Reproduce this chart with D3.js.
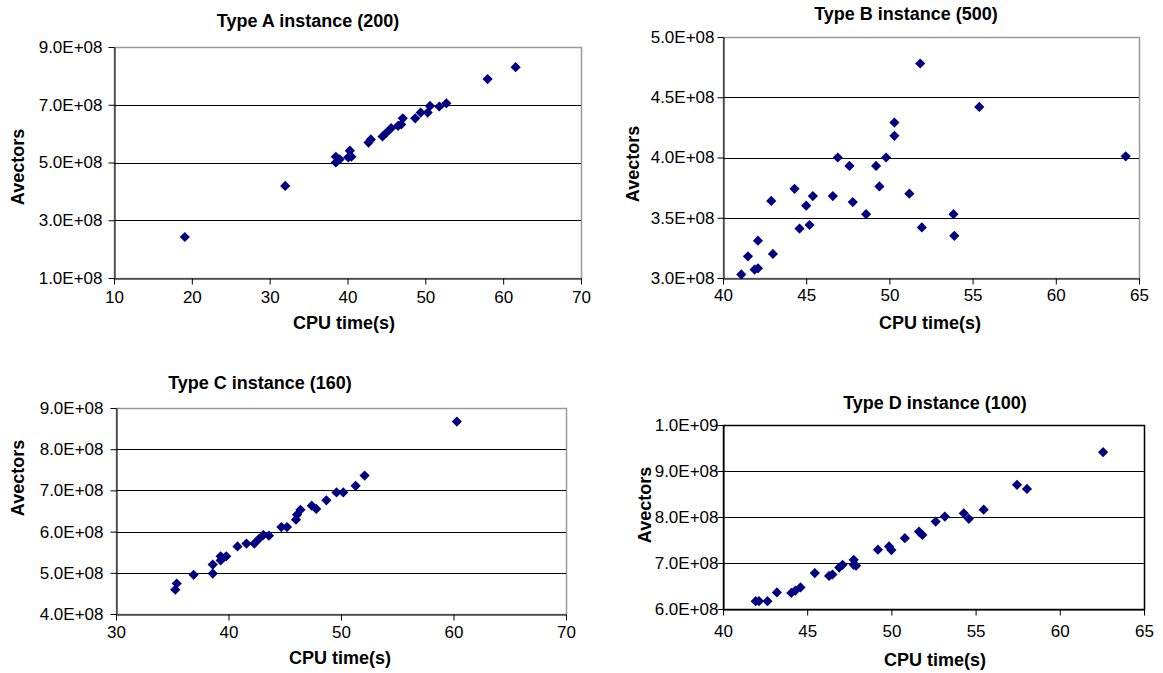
<!DOCTYPE html>
<html>
<head>
<meta charset="utf-8">
<script src="https://cdn.jsdelivr.net/npm/d3@7"></script>
<style>
  body { margin: 0; background: #fff; }
  svg { font-family: Arial, "Liberation Sans", sans-serif; }
</style>
</head>
<body>
<svg width="1163" height="673"></svg>
<script>
// data (x = CPU time in s, y = Avectors / 1e8)
const aX = [19.1, 32.0, 38.5, 38.5, 39.0, 40.3, 40.5, 40.1, 42.7, 43.0, 44.5, 45.0, 45.6, 46.5, 46.9, 47.1, 48.7, 49.4, 50.3, 50.6, 51.8, 52.7, 58.0, 61.6];
const aY = [2.42, 4.19, 5.2, 5.0, 5.11, 5.41, 5.2, 5.18, 5.69, 5.8, 5.9, 6.03, 6.19, 6.27, 6.32, 6.53, 6.53, 6.73, 6.73, 6.96, 6.94, 7.05, 7.89, 8.3];

const bX = [41.1, 41.5, 41.9, 42.1, 42.1, 42.9, 43.0, 44.3, 44.6, 45.0, 45.2, 45.4, 46.6, 46.9, 47.6, 47.8, 48.6, 49.2, 49.4, 49.8, 50.3, 50.3, 51.2, 51.85, 51.95, 53.85, 53.9, 55.4, 64.2];
const bY = [3.03, 3.18, 3.07, 3.08, 3.31, 3.64, 3.2, 3.74, 3.41, 3.6, 3.44, 3.68, 3.68, 4.0, 3.93, 3.63, 3.53, 3.93, 3.76, 4.0, 4.18, 4.29, 3.7, 4.78, 3.42, 3.53, 3.35, 4.42, 4.01];

const cX = [35.27, 35.4, 36.9, 38.6, 38.6, 39.3, 39.3, 39.8, 40.8, 41.6, 42.3, 42.7, 43.1, 43.6, 44.7, 45.2, 46.0, 46.1, 46.4, 47.4, 47.8, 48.7, 49.6, 50.2, 51.3, 52.1, 60.3];
const cY = [4.59, 4.74, 4.95, 4.98, 5.2, 5.3, 5.4, 5.4, 5.64, 5.71, 5.71, 5.82, 5.92, 5.9, 6.11, 6.11, 6.29, 6.41, 6.53, 6.63, 6.55, 6.76, 6.95, 6.95, 7.11, 7.36, 8.67];

const dX = [41.94, 42.14, 42.64, 43.2, 44.06, 44.3, 44.6, 45.45, 46.3, 46.5, 46.9, 47.1, 47.76, 47.9, 47.76, 49.2, 49.86, 50.0, 50.8, 51.64, 51.84, 52.63, 53.17, 54.3, 54.6, 55.48, 57.46, 58.05, 62.57];
const dY = [6.17, 6.17, 6.17, 6.36, 6.35, 6.4, 6.47, 6.78, 6.72, 6.75, 6.9, 6.96, 7.07, 6.94, 6.96, 7.29, 7.36, 7.28, 7.54, 7.68, 7.61, 7.9, 8.01, 8.08, 7.96, 8.16, 8.7, 8.61, 9.41];

const titles = ['Type A instance (200)', 'Type B instance (500)', 'Type C instance (160)', 'Type D instance (100)'];
const xTicksA = [10, 20, 30, 40, 50, 60, 70];
const yTicksA = [1e8, 3e8, 5e8, 7e8, 9e8];
const xTicksB = [40, 45, 50, 55, 60, 65];
const yTicksB = [3.0e8, 3.5e8, 4.0e8, 4.5e8, 5.0e8];
const xTicksC = [30, 40, 50, 60, 70];
const yTicksC = [4e8, 5e8, 6e8, 7e8, 8e8, 9e8];
const xTicksD = [40, 45, 50, 55, 60, 65];
const yTicksD = [6e8, 7e8, 8e8, 9e8, 1e9];

const panels = [
  {title: titles[0], xs: aX, ys: aY, xt: xTicksA, yt: yTicksA, tickY: 12, tickX: -12,
   box: [114, 581, 47, 278], tx: 308, ty: 27, ylx: 18, yly: 167, xlx: 344, xly: 329, border: '#999'},
  {title: titles[1], xs: bX, ys: bY, xt: xTicksB, yt: yTicksB, tickY: 10, tickX: -9,
   box: [723, 1139, 37, 278], tx: 906, ty: 20, ylx: 633, yly: 164, xlx: 930, xly: 329, border: '#999'},
  {title: titles[2], xs: cX, ys: cY, xt: xTicksC, yt: yTicksC, tickY: 11, tickX: -13,
   box: [116, 566, 408, 614], tx: 260, ty: 389, ylx: 18, yly: 478, xlx: 340, xly: 664, border: '#999'},
  {title: titles[3], xs: dX, ys: dY, xt: xTicksD, yt: yTicksD, tickY: 15, tickX: -5,
   box: [723, 1144, 425, 609], tx: 935, ty: 409, ylx: 645, yly: 505, xlx: 935, xly: 666, border: '#000'}
];

const svg = d3.select('svg');
const fmt = v => v.toExponential(1).replace('e+', 'E+0').toUpperCase();

panels.forEach(p => {
  const [x0, x1, y0, y1] = p.box;
  const x = d3.scaleLinear().domain(d3.extent(p.xt)).range([x0, x1]);
  const y = d3.scaleLinear().domain(d3.extent(p.yt)).range([y1, y0]);
  const g = svg.append('g');

  // plot frame
  g.append('rect')
    .attr('x', x0 + 0.5).attr('y', y0 + 0.5)
    .attr('width', x1 - x0).attr('height', y1 - y0)
    .attr('fill', 'none').attr('stroke', p.border).attr('stroke-width', 1.5);

  // gridlines
  g.selectAll('.grid').data(p.yt.slice(1, -1)).join('line')
    .attr('x1', x0).attr('x2', x1)
    .attr('y1', d => Math.round(y(d)) + 0.5).attr('y2', d => Math.round(y(d)) + 0.5)
    .attr('stroke', '#000');

  const yAxis = g.append('g')
    .attr('transform', `translate(${x0 + 0.5},0)`)
    .call(d3.axisLeft(y).tickValues(p.yt).tickFormat(fmt).tickSize(6).tickSizeOuter(0));
  yAxis.attr('font-size', null).attr('font-family', null);
  yAxis.selectAll('text').attr('fill', '#000').attr('x', p.tickX).style('font-size', '17px');

  const xAxis = g.append('g')
    .attr('transform', `translate(0,${y1 + 0.5})`)
    .call(d3.axisBottom(x).tickValues(p.xt).tickFormat(d3.format('d')).tickSize(6).tickSizeOuter(0));
  xAxis.attr('font-size', null).attr('font-family', null);
  xAxis.selectAll('text').attr('fill', '#000').attr('y', p.tickY).style('font-size', '17px');
  g.selectAll('.domain').attr('stroke', '#000');
  g.selectAll('.tick line').attr('stroke', '#000');

  // points
  g.selectAll('.pt').data(p.xs.map((v, i) => [v, p.ys[i] * 1e8])).join('path')
    .attr('d', d3.symbol(d3.symbolSquare, 52)())
    .attr('transform', d => `translate(${x(d[0])},${y(d[1])}) rotate(45)`)
    .attr('fill', '#000080');

  // texts
  svg.append('text').attr('x', p.tx).attr('y', p.ty)
    .attr('text-anchor', 'middle').attr('font-weight', 'bold').style('font-size', '18px')
    .text(p.title);
  svg.append('text').attr('x', p.xlx).attr('y', p.xly)
    .attr('text-anchor', 'middle').attr('font-weight', 'bold').style('font-size', '18px')
    .text('CPU time(s)');
  svg.append('text')
    .attr('transform', `translate(${p.ylx + 6},${p.yly}) rotate(-90)`)
    .attr('text-anchor', 'middle').attr('font-weight', 'bold').style('font-size', '18px')
    .text('Avectors');
});
</script>
</body>
</html>
